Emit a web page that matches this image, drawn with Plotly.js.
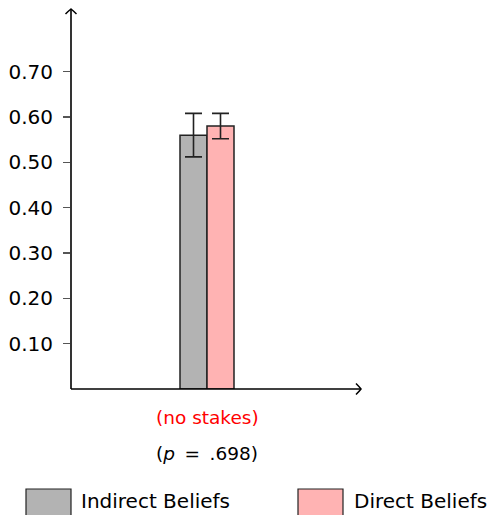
<!DOCTYPE html>
<html><head><meta charset="utf-8">
<script src="https://cdn.plot.ly/plotly-3.0.1.min.js"></script>
<style>html,body{margin:0;padding:0;background:#fff}</style>
</head><body><div id="chart" style="width:494px;height:515px"></div>
<script>
const categories = ["no stakes"];
const seriesNames = ["Indirect Beliefs", "Direct Beliefs"];
const indirectValues = [0.56];
const indirectErrors = [0.048];
const directValues = [0.58];
const directErrors = [0.028];
const yTickValues = [0.1, 0.2, 0.3, 0.4, 0.5, 0.6, 0.7];
const yTickLabels = ["0.10", "0.20", "0.30", "0.40", "0.50", "0.60", "0.70"];
const categoryLabels = ["(no stakes)"];
const pValueLabels = ["(<i>p</i> \u2009= \u2009.698)"];
const seriesColors = ["#b3b3b3", "#ffb3b3"];

const FONT = "DejaVu Sans";
const W = 494, H = 515, ML = 71, MR = 133, MT = 9, MB = 126;
const PW = W - ML - MR, PH = H - MT - MB;
const px2paperX = px => (px - ML) / PW;
const px2paperY = py => (H - MB - py) / PH;

const traces = [
  {type: "bar", name: seriesNames[0], x: categories, y: indirectValues,
   marker: {color: seriesColors[0], line: {color: "#222", width: 1.5}},
   error_y: {type: "data", array: indirectErrors, color: "#222", thickness: 1.6, width: 8.5},
   showlegend: false},
  {type: "bar", name: seriesNames[1], x: categories, y: directValues,
   marker: {color: seriesColors[1], line: {color: "#222", width: 1.5}},
   error_y: {type: "data", array: directErrors, color: "#222", thickness: 1.6, width: 8.5},
   showlegend: false}
];

const shapes = [
  {type: "line", xref: "paper", yref: "paper", x0: 0, x1: 0, y0: 0, y1: 1, line: {color: "#000", width: 1.6}},
  {type: "line", xref: "paper", yref: "paper", x0: 0, x1: 1, y0: 0, y1: 0, line: {color: "#000", width: 1.6}},
  {type: "path", xref: "paper", yref: "paper", xsizemode: "pixel", ysizemode: "pixel", xanchor: 0, yanchor: 1,
   path: "M-5.5,-5 Q-2,-1.5 0,0 Q2,-1.5 5.5,-5", line: {color: "#000", width: 1.5}},
  {type: "path", xref: "paper", yref: "paper", xsizemode: "pixel", ysizemode: "pixel", xanchor: 1, yanchor: 0,
   path: "M-5,5.5 Q-1.5,2 0,0 Q-1.5,-2 -5,-5.5", line: {color: "#000", width: 1.5}}
];

const legendBoxes = [[26, 71], [298, 343]];
const legendTextX = [79, 352];
const annotations = [];
seriesNames.forEach((n, i) => {
  shapes.push({type: "rect", xref: "paper", yref: "paper",
    x0: px2paperX(legendBoxes[i][0]), x1: px2paperX(legendBoxes[i][1]),
    y0: px2paperY(489), y1: px2paperY(525),
    fillcolor: seriesColors[i], line: {color: "#222", width: 1.2}});
  annotations.push({xref: "paper", yref: "paper", x: px2paperX(legendTextX[i]), y: px2paperY(501),
    xanchor: "left", yanchor: "middle", showarrow: false, text: n,
    font: {family: FONT, size: 20, color: "#000"}});
});
categories.forEach((c, i) => {
  annotations.push({xref: "x", yref: "paper", x: i, y: px2paperY(418), xanchor: "center", yanchor: "middle",
    showarrow: false, text: categoryLabels[i], font: {family: FONT, size: 18.5, color: "#ff0000"}});
  annotations.push({xref: "x", yref: "paper", x: i, y: px2paperY(453), xanchor: "center", yanchor: "middle",
    showarrow: false, text: pValueLabels[i], font: {family: FONT, size: 18.5, color: "#000"}});
});

const layout = {
  width: W, height: H,
  margin: {l: ML, r: MR, t: MT, b: MB, pad: 0},
  paper_bgcolor: "#fff", plot_bgcolor: "#fff",
  barmode: "group", bargap: 0.603, bargroupgap: 0,
  xaxis: {type: "category", range: [-1, 154 / 136], showticklabels: false, ticks: "", showgrid: false,
          zeroline: false, showline: false, fixedrange: true},
  yaxis: {range: [0, 380 / 453.3], tickvals: yTickValues, ticktext: yTickLabels, ticks: "outside",
          ticklen: 7, tickwidth: 1.2, tickcolor: "#555", showgrid: false, zeroline: false, showline: false,
          ticklabelstandoff: 6, tickfont: {family: FONT, size: 20, color: "#000"}},
  shapes: shapes,
  annotations: annotations,
  showlegend: false
};

Plotly.newPlot("chart", traces, layout, {displayModeBar: false, staticPlot: true});
</script></body></html>
